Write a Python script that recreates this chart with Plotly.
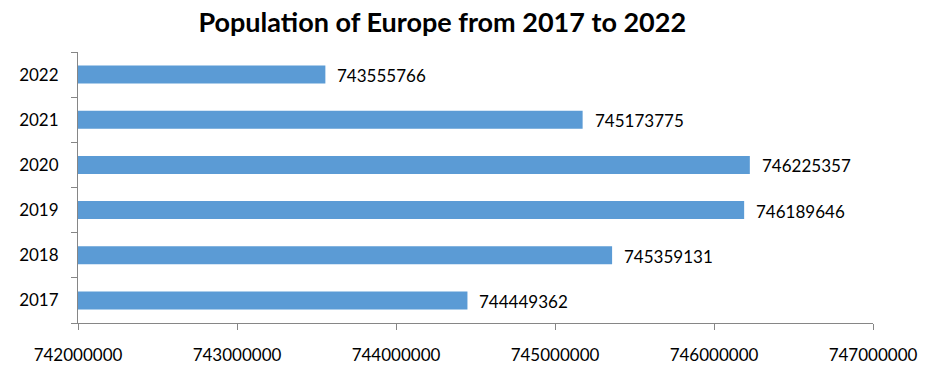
import plotly.graph_objects as go

years = ["2017", "2018", "2019", "2020", "2021", "2022"]
population = [744449362, 745359131, 746189646, 746225357, 745173775, 743555766]
x_ticks = [742000000, 743000000, 744000000, 745000000, 746000000, 747000000]

FONT = "Lato"
AXIS = "#868686"

fig = go.Figure()
fig.add_trace(go.Bar(
    y=years, x=population, orientation="h",
    marker=dict(color="#5B9BD5", line=dict(width=0)),
    hoverinfo="x+y",
))

for i, v in enumerate(population):
    fig.add_annotation(x=v, y=i, text=str(v), showarrow=False,
                       xanchor="left", yanchor="middle", xshift=10, yshift=-1,
                       font=dict(family=FONT, size=17, color="#000000"))

# page body has an 8px default margin; compensate so the plot lands where the reference has it
fig.update_layout(
    width=940, height=392,
    margin=dict(l=70, r=75, t=44, b=77),
    paper_bgcolor="white", plot_bgcolor="white",
    bargap=0.6,
    showlegend=False,
    title=dict(text="<b>Population of Europe from 2017 to 2022</b>",
               x=0.462, xanchor="center", y=0.964, yanchor="middle",
               font=dict(family=FONT, size=27, color="#000000")),
    xaxis=dict(range=[742000000, 747000000], tickvals=x_ticks,
               ticktext=[str(t) for t in x_ticks],
               showgrid=False, zeroline=False, automargin=False,
               showline=True, linecolor=AXIS, linewidth=1,
               ticks="outside", ticklen=6, tickcolor=AXIS,
               ticklabelstandoff=11,
               tickfont=dict(family=FONT, size=17, color="#000000")),
    yaxis=dict(type="category", categoryorder="array", categoryarray=years,
               range=[-0.5, 5.5], automargin=False,
               showgrid=False, zeroline=False,
               showline=True, linecolor=AXIS, linewidth=1,
               ticks="outside", ticklen=6, tickcolor=AXIS,
               tickson="boundaries", ticklabelstandoff=15,
               tickfont=dict(family=FONT, size=17, color="#000000")),
)

fig.write_html("out.html")
